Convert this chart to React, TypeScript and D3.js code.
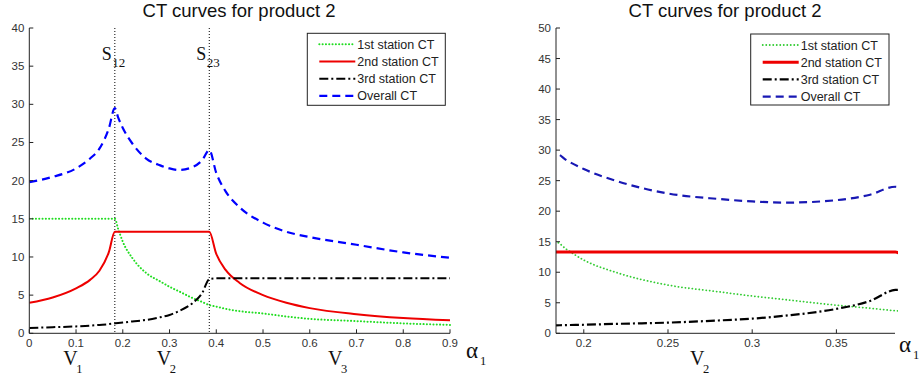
import React from 'react';
import * as d3 from 'd3';

// alpha_1 values where the curves were read
const alpha = [0, 0.05, 0.1, 0.13, 0.15, 0.17, 0.183, 0.19, 0.2, 0.22, 0.25, 0.28, 0.3, 0.32, 0.35, 0.37, 0.385, 0.4, 0.42, 0.45, 0.5, 0.55, 0.6, 0.7, 0.8, 0.9];
const station1 = [15, 15, 15, 15, 15, 15, 15, 13.7, 12.0, 9.9, 7.9, 6.8, 6.1, 5.5, 4.6, 4.1, 3.7, 3.5, 3.2, 2.9, 2.6, 2.2, 1.9, 1.6, 1.3, 1.1];
const station2 = [4.0, 4.7, 5.9, 7.0, 8.2, 10.6, 13.3, 13.3, 13.3, 13.3, 13.3, 13.3, 13.3, 13.3, 13.3, 13.3, 13.3, 10.4, 8.3, 6.6, 5.0, 4.0, 3.3, 2.5, 2.0, 1.7];
const station3 = [0.7, 0.8, 0.9, 1.0, 1.1, 1.2, 1.3, 1.35, 1.4, 1.55, 1.75, 2.1, 2.4, 2.9, 4.0, 5.3, 7.1, 7.2, 7.2, 7.2, 7.2, 7.2, 7.2, 7.2, 7.2, 7.2];
const overall = [19.8, 20.5, 21.6, 22.9, 24.2, 26.8, 29.5, 28.3, 26.9, 24.9, 22.9, 22.0, 21.6, 21.4, 21.8, 22.7, 24.0, 21.0, 18.6, 16.5, 14.5, 13.3, 12.6, 11.6, 10.6, 9.9];

const switchPoints = [0.183, 0.385];
const switchLabels = ['12', '23'];
const regionLabels = ['1', '2', '3'];
const regionCenters = [0.09, 0.29, 0.656];

const leftXTicks = [0, 0.1, 0.2, 0.3, 0.4, 0.5, 0.6, 0.7, 0.8, 0.9];
const leftYTicks = [0, 5, 10, 15, 20, 25, 30, 35, 40];
const rightXTicks = [0.2, 0.25, 0.3, 0.35];
const rightYTicks = [0, 5, 10, 15, 20, 25, 30, 35, 40, 45, 50];

const legendNames = ['1st station CT', '2nd station CT', '3rd station CT', 'Overall CT'];

const sans = 'Arial, "Liberation Sans", Helvetica, sans-serif';
const serif = '"Times New Roman", "Liberation Serif", serif';

type Style = { color: string; dash: string; width: number; cap?: string };

const Panel = ({ x0, x1, y0, y1, xDomain, yMax, xTicks, yTicks, styles, clipId, showSwitch }) => {
  const x = d3.scaleLinear().domain(xDomain).range([x0, x1]);
  const y = d3.scaleLinear().domain([0, yMax]).range([y1, y0]);
  const series = [station1, station2, station3, overall];
  const line = d3.line<number>().x((_, i) => x(alpha[i])).y((d) => y(d)).curve(d3.curveMonotoneX);
  const fmt = (v: number) => String(v);
  return (
    <g>
      <defs>
        <clipPath id={clipId}>
          <rect x={x0} y={y0 - 5} width={x1 - x0 + 3} height={y1 - y0 + 5} />
        </clipPath>
      </defs>
      {showSwitch && switchPoints.map((s, i) => (
        <g key={'s' + i}>
          <line x1={x(s)} x2={x(s)} y1={y0} y2={y1} stroke="#000" strokeWidth={1} strokeDasharray="1,2" />
          <text x={x(s) - 13} y={60} fontFamily={serif} fontSize={18} fill="#111">S</text>
          <text x={x(s) - 2.5} y={67} fontFamily={serif} fontSize={13} fill="#111">{switchLabels[i]}</text>
        </g>
      ))}
      <g clipPath={`url(#${clipId})`}>
        {series.map((s, i) => (
          <path key={i} d={line(s) || ''} fill="none" stroke={styles[i].color} strokeWidth={styles[i].width}
            strokeDasharray={styles[i].dash} strokeLinecap={styles[i].cap || 'butt'} />
        ))}
      </g>
      <line x1={x0} x2={x0} y1={y0} y2={y1} stroke="#222" />
      <line x1={x0} x2={x1} y1={y1} y2={y1} stroke="#222" />
      {yTicks.map((t) => (
        <g key={'y' + t}>
          <line x1={x0} x2={x0 + 4} y1={y(t)} y2={y(t)} stroke="#222" />
          <text x={x0 - 5} y={y(t) + 4} textAnchor="end" fontFamily={sans} fontSize={11.5} fill="#333">{fmt(t)}</text>
        </g>
      ))}
      {xTicks.map((t) => (
        <g key={'x' + t}>
          <line x1={x(t)} x2={x(t)} y1={y1} y2={y1 - 4} stroke="#222" />
          <text x={x(t)} y={y1 + 13.5} textAnchor="middle" fontFamily={sans} fontSize={11.5} fill="#333">{fmt(t)}</text>
        </g>
      ))}
    </g>
  );
};

const Legend = ({ bx, by, bw, bh, styles }) => (
  <g>
    <rect x={bx} y={by} width={bw} height={bh} fill="#fff" stroke="#222" />
    {legendNames.map((n, i) => {
      const ly = by + 11 + i * 17.2;
      return (
        <g key={n}>
          <line x1={bx + 12} x2={bx + 48} y1={ly} y2={ly} stroke={styles[i].color} strokeWidth={styles[i].width}
            strokeDasharray={styles[i].dash} strokeLinecap={styles[i].cap || 'butt'} />
          <text x={bx + 50} y={ly + 4.5} fontFamily={sans} fontSize={12.5} fill="#222">{n}</text>
        </g>
      );
    })}
  </g>
);

const leftStyles: Style[] = [
  { color: '#22dd22', dash: '0.1,3.2', width: 2, cap: 'round' },
  { color: '#ee0000', dash: '', width: 2 },
  { color: '#000', dash: '9,3,2,3', width: 2 },
  { color: '#0000ff', dash: '8,5', width: 2.2 },
];
const rightStyles: Style[] = [
  { color: '#33cc33', dash: '0.1,3.4', width: 1.8, cap: 'round' },
  { color: '#ee0000', dash: '', width: 3 },
  { color: '#000', dash: '9,3,2,3', width: 2.2 },
  { color: '#1818b4', dash: '8,5', width: 2.2 },
];

const Alpha = ({ px, py }) => (
  <g>
    <text x={px} y={py} fontFamily={serif} fontSize={23} fill="#111">α</text>
    <text x={px + 14} y={py + 7} fontFamily={serif} fontSize={12.5} fill="#111">1</text>
  </g>
);

const V = ({ px, sub }) => (
  <g>
    <text x={px} y={365} fontFamily={serif} fontSize={20} fill="#111">V</text>
    <text x={px + 13} y={373} fontFamily={serif} fontSize={12.5} fill="#111">{sub}</text>
  </g>
);

export default function App() {
  const lx = d3.scaleLinear().domain([0, 0.9]).range([29.3, 450]);
  return (
    <svg width={919} height={376} style={{ position: 'absolute', left: 0, top: 0, background: '#fff' }}>
      <rect width={919} height={376} fill="#fff" />
      <text x={239} y={17} textAnchor="middle" fontFamily={sans} fontSize={18.5} fill="#111">CT curves for product 2</text>
      <text x={725} y={17} textAnchor="middle" fontFamily={sans} fontSize={18.5} fill="#111">CT curves for product 2</text>
      <Panel x0={29.3} x1={450} y0={28} y1={333.3} xDomain={[0, 0.9]} yMax={40} xTicks={leftXTicks} yTicks={leftYTicks}
        styles={leftStyles} clipId="clipL" showSwitch={true} />
      <Panel x0={556} x1={895} y0={28} y1={333.3} xDomain={[0.1835, 0.3848]} yMax={50} xTicks={rightXTicks} yTicks={rightYTicks}
        styles={rightStyles} clipId="clipR" showSwitch={false} />
      <Legend bx={307.3} by={33.3} bw={138} bh={72} styles={leftStyles} />
      <Legend bx={750.7} by={34} bw={138.3} bh={71} styles={rightStyles} />
      {regionCenters.map((c, i) => (
        <V key={i} px={lx(c) - 8} sub={regionLabels[i]} />
      ))}
      <V px={690} sub="2" />
      <Alpha px={466} py={358} />
      <Alpha px={899} py={352} />
    </svg>
  );
}
